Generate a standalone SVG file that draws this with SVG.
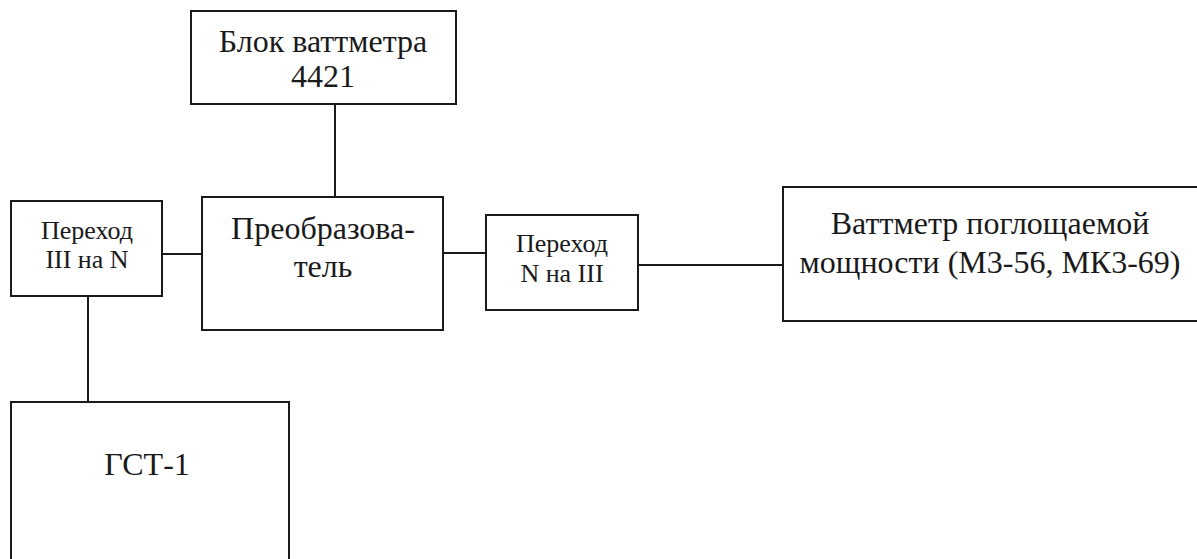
<svg xmlns="http://www.w3.org/2000/svg" width="1197" height="559" viewBox="0 0 1197 559">
<style>
.box{fill:none;stroke:#1a1a1a;stroke-width:2}
.ln{stroke:#1a1a1a;stroke-width:2;fill:none}
.t{font-family:"Liberation Serif","Times New Roman",serif;fill:#1a1a1a;text-anchor:middle}
.big{font-size:32px}
.sm{font-size:26px}
</style>
<rect width="1197" height="559" fill="#ffffff"/>
<g id="connectors">
<line class="ln" x1="335" y1="104" x2="335" y2="197"/>
<line class="ln" x1="162" y1="254" x2="202" y2="254"/>
<line class="ln" x1="88" y1="296" x2="88" y2="402"/>
<line class="ln" x1="443" y1="253" x2="486" y2="253"/>
<line class="ln" x1="638" y1="265" x2="783" y2="265"/>
</g>
<g id="blok">
<rect class="box" x="191" y="11" width="265" height="93"/>
<text class="t big" x="323" y="52">Блок ваттметра</text>
<text class="t big" x="323" y="87">4421</text>
</g>
<g id="preobr">
<rect class="box" x="202" y="197" width="241" height="133"/>
<text class="t big" x="323" y="239">Преобразова-</text>
<text class="t big" x="323" y="277">тель</text>
</g>
<g id="perehod1">
<rect class="box" x="11" y="201" width="151" height="95"/>
<text class="t sm" x="87" y="239">Переход</text>
<text class="t sm" x="87" y="268">III на N</text>
</g>
<g id="perehod2">
<rect class="box" x="486" y="215" width="152" height="95"/>
<text class="t sm" x="562" y="252">Переход</text>
<text class="t sm" x="562" y="282">N на III</text>
</g>
<g id="wattmeter">
<rect class="box" x="783" y="187" width="420" height="134"/>
<text class="t big" x="990" y="234">Ваттметр поглощаемой</text>
<text class="t big" x="990" y="273">мощности (М3-56, МК3-69)</text>
</g>
<g id="gst">
<rect class="box" x="11" y="402" width="278" height="170"/>
<text class="t big" x="147" y="475">ГСТ-1</text>
</g>
</svg>
